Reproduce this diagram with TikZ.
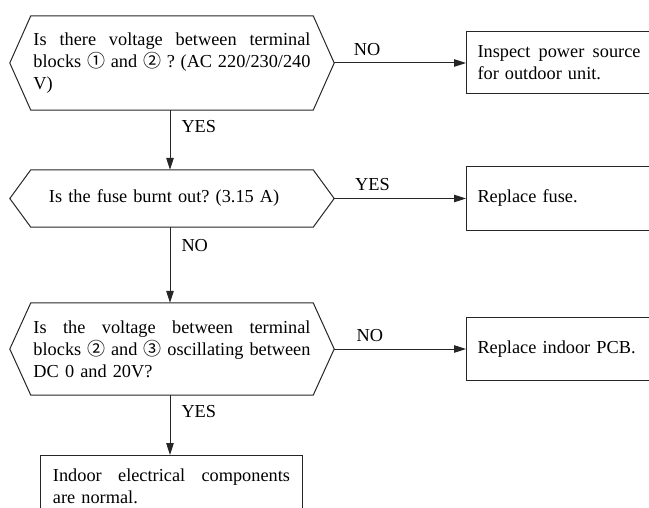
\documentclass[tikz,border=0pt]{standalone}
\usepackage{fontspec}
\setmainfont{Liberation Serif}
\newfontfamily\cjkfont{Noto Sans CJK SC}
\usetikzlibrary{arrows.meta}
\frenchspacing
\newcommand\cnum[1]{{\cjkfont\fontsize{18bp}{18bp}\selectfont #1}}
\newcommand\jline[2]{\leavevmode\hbox to #1{\spaceskip=0.25em plus 1fil\relax\xspaceskip=0.25em plus 1fil\relax #2}}
\newcommand\drawhex[1]{%
  \draw[ln] (#1.north west) -- (#1.north east) -- ([xshift=21bp]#1.east)
    -- (#1.south east) -- (#1.south west) -- ([xshift=-21bp]#1.west) -- cycle;
  \coordinate (#1r) at ([xshift=21bp]#1.east);}
\begin{document}
\begin{tikzpicture}[x=1bp, y=-1bp,
  font=\fontsize{18.3bp}{22bp}\selectfont, text=black,
  ln/.style={draw=black!85, line width=1bp},
  arr/.style={ln, -{Triangle[length=12bp,width=7.5bp]}},
  hex/.style={inner xsep=2.5bp, inner ysep=0pt, text width=277bp, align=left, minimum width=282bp},
  rbox/.style={ln, anchor=west, inner xsep=11bp, text width=178bp, align=left, minimum height=63bp},
  lbl/.style={inner sep=3bp}]
\useasboundingbox (0,0) rectangle (649,508);
\clip (0,0) rectangle (649,508);

% decision hexagons
\node[hex, minimum height=94bp] (h1) at (172,63)
  {\jline{277bp}{Is there voltage between terminal}\\
   \jline{277bp}{blocks \cnum{①} and \cnum{②} ? (AC 220/230/240}\\
   V)};
\drawhex{h1}

\node[hex, minimum height=57bp] (h2) at (172,198.5)
  {\hspace*{15.5bp}Is the fuse burnt out? (3.15 A)};
\drawhex{h2}

\node[hex, minimum height=92bp] (h3) at (172,349)
  {\jline{277bp}{Is the voltage between terminal}\\
   \jline{277bp}{blocks \cnum{②} and \cnum{③} oscillating between}\\
   DC 0 and 20V?};
\drawhex{h3}

% action boxes
\node[rbox, minimum height=62bp] (r1) at (466,63)
  {\jline{163bp}{Inspect power source}\\for outdoor unit.};
\node[rbox] (r2) at (466,198.5) {Replace fuse.};
\node[rbox] (r3) at (466,349) {Replace indoor PCB.};

\node[ln, anchor=north, inner xsep=12bp, inner ysep=13bp, text width=237bp, align=left] (b) at (171.5,455)
  {\jline{237bp}{Indoor electrical components}\\are normal.};

% connectors
\draw[arr] (h1r) -- (r1.west) node[lbl, pos=0.25, above=4bp] {NO};
\draw[arr] (h2r) -- (r2.west) node[lbl, pos=0.29, above=4bp] {YES};
\draw[arr] (h3r) -- (r3.west) node[lbl, pos=0.27, above=4bp] {NO};

\draw[arr] ([xshift=-2bp]h1.south) -- ([xshift=-2bp]h2.north) node[lbl, pos=0.28, right=8bp] {YES};
\draw[arr] ([xshift=-2bp]h2.south) -- ([xshift=-2bp]h3.north) node[lbl, pos=0.24, right=8bp] {NO};
\draw[arr] ([xshift=-2bp]h3.south) -- ([xshift=-1.5bp]b.north) node[lbl, pos=0.28, right=8bp] {YES};
\end{tikzpicture}
\end{document}
